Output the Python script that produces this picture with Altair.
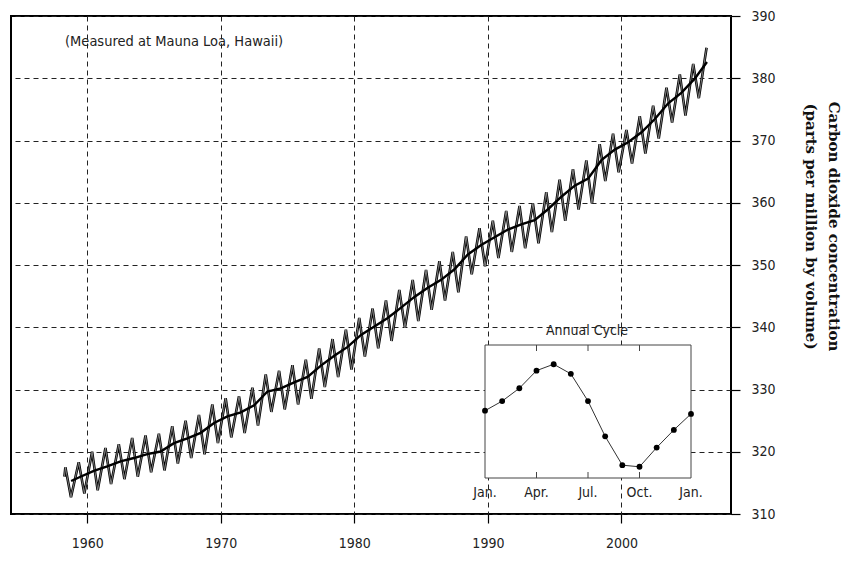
import altair as alt
import pandas as pd

# ---------------- data ----------------
years = list(range(1958, 2007))
# seasonal maxima (around May) 1958..2006
peak_may = [317.5, 318.3, 320.0, 320.6, 321.2, 322.2, 322.6, 322.9, 324.1, 325.0,
            325.9, 327.6, 328.6, 328.9, 330.3, 332.4, 333.0, 333.9, 334.8, 336.6,
            338.1, 339.6, 341.5, 343.0, 344.3, 346.0, 347.6, 349.2, 350.6, 352.1,
            354.6, 355.9, 357.1, 358.7, 359.5, 359.9, 361.7, 363.7, 365.4, 366.8,
            369.4, 371.1, 371.7, 373.9, 375.6, 378.5, 380.6, 382.3, 384.9]
# seasonal minima (around October) 1958..2005
trough_oct = [312.7, 313.3, 313.8, 314.8, 315.6, 316.0, 316.7, 317.0, 318.1, 319.0,
              319.6, 321.4, 322.3, 323.0, 324.2, 326.4, 326.8, 327.6, 328.5, 330.4,
              332.0, 333.2, 335.3, 336.6, 337.8, 339.9, 341.0, 342.8, 344.3, 345.6,
              348.5, 349.8, 351.1, 352.1, 352.7, 353.5, 355.3, 357.1, 358.9, 359.9,
              363.5, 364.9, 366.3, 367.9, 370.3, 372.9, 374.0, 376.8]
start_time, start_value = 1958.3, 316.0

# smooth trend (annual means)
trend_time = [1958.8] + [y + 0.5 for y in range(1959, 2006)] + [2006.4]
trend_value = [315.3,
               315.98, 316.91, 317.64, 318.45, 318.99, 319.62, 320.04, 321.38, 322.16, 323.04,
               324.62, 325.68, 326.32, 327.46, 329.68, 330.19, 331.13, 332.03, 333.84, 335.41,
               336.84, 338.76, 340.12, 341.48, 343.15, 344.87, 346.35, 347.61, 349.31, 351.69,
               353.20, 354.45, 355.70, 356.54, 357.21, 358.96, 360.97, 362.74, 363.88, 366.84,
               368.54, 369.71, 371.32, 373.45, 375.98, 377.70, 379.98,
               382.6]

# inset: annual cycle (deviation, ppm), Jan..Jan
cycle_month = list(range(13))
cycle_value = [0.3, 0.9, 1.7, 2.8, 3.2, 2.6, 0.9, -1.3, -3.1, -3.2, -2.0, -0.9, 0.1]
cycle_tick_month = [0, 3, 6, 9, 12]
cycle_tick_label = ["Jan.", "Apr.", "Jul.", "Oct.", "Jan."]

x_ticks = [1960, 1970, 1980, 1990, 2000]
y_ticks = [310, 320, 330, 340, 350, 360, 370, 380, 390]

# ---------------- tables ----------------
zt, zv = [start_time], [start_value]
for i, y in enumerate(years):
    zt.append(y + 0.37)
    zv.append(peak_may[i])
    if i < len(trough_oct):
        zt.append(y + 0.79)
        zv.append(trough_oct[i])
zig = pd.DataFrame({"t": zt, "v": zv})
trend = pd.DataFrame({"t": trend_time, "v": trend_value})
cycle = pd.DataFrame({"m": cycle_month, "d": cycle_value})
cyc_ticks = pd.DataFrame({"m": cycle_tick_month, "lab": cycle_tick_label})
inner_ticks = cyc_ticks[cyc_ticks["m"].isin([3, 6, 9])]

NARROW = "Liberation Sans Narrow, Arial Narrow, DejaVu Sans Condensed, sans-serif"

xs = alt.X("t:Q",
           scale=alt.Scale(domain=[1954.3, 2008.2], nice=False, zero=False),
           axis=alt.Axis(values=x_ticks, format="d", grid=True, gridDash=[5, 4],
                         gridColor="#222", gridWidth=1, tickSize=9, tickColor="black",
                         tickWidth=1.2, labelPadding=13, labelFont=NARROW,
                         labelFontSize=14, labelColor="#222", domain=False, title=None))
ys = alt.Y("v:Q",
           scale=alt.Scale(domain=[310, 390], nice=False, zero=False),
           axis=alt.Axis(orient="right", values=y_ticks, grid=True, gridDash=[5, 4],
                         gridColor="#222", gridWidth=1, tickSize=9, tickColor="black",
                         tickWidth=1.2, labelPadding=11, labelFont=NARROW,
                         labelFontSize=14, labelColor="#222", domain=False,
                         title=["Carbon dioxide concentration", "(parts per million by volume)"],
                         titleFont="DejaVu Serif", titleFontSize=15,
                         titleFontWeight="bold", titleColor="#111", titleAngle=90,
                         titlePadding=27, titleLineHeight=23, titleY=210))

zig_outer = alt.Chart(zig).mark_line(color="black", strokeWidth=2.6).encode(x=xs, y=ys)
zig_inner = alt.Chart(zig).mark_line(color="#9c9c9c", strokeWidth=0.8).encode(x=xs, y=ys)
trend_line = alt.Chart(trend).mark_line(color="black", strokeWidth=2.4).encode(x=xs, y=ys)
note = alt.Chart(pd.DataFrame({"txt": ["(Measured at Mauna Loa, Hawaii)"]})).mark_text(
    align="left", baseline="middle", font=NARROW, fontSize=14.5, color="#222"
).encode(x=alt.value(54), y=alt.value(26), text="txt:N")

main = alt.layer(zig_outer, zig_inner, trend_line, note)

# ---------------- inset ----------------
ix_scale = alt.Scale(domain=[0, 12], range=[474, 680], nice=False, zero=False)
iy_scale = alt.Scale(domain=[-3.9, 4.4], range=[462, 329], nice=False, zero=False)

box = alt.Chart(pd.DataFrame({"m0": [0], "m1": [12], "d0": [-3.9], "d1": [4.4]})).mark_rect(
    fill="white", stroke="#444", strokeWidth=1
).encode(x=alt.X("m0:Q", scale=ix_scale, axis=None), x2="m1:Q",
         y=alt.Y("d0:Q", scale=iy_scale, axis=None), y2="d1:Q")
tick_b = alt.Chart(inner_ticks).mark_rule(color="#444", strokeWidth=1).encode(
    x=alt.X("m:Q", scale=ix_scale, axis=None), y=alt.value(462), y2=alt.value(456))
tick_t = alt.Chart(inner_ticks).mark_rule(color="#444", strokeWidth=1).encode(
    x=alt.X("m:Q", scale=ix_scale, axis=None), y=alt.value(329), y2=alt.value(335))
tick_lab = alt.Chart(cyc_ticks).mark_text(
    baseline="middle", align="center", font=NARROW, fontSize=14, color="#222"
).encode(x=alt.X("m:Q", scale=ix_scale, axis=None), y=alt.value(477), text="lab:N")
ititle = alt.Chart(pd.DataFrame({"txt": ["Annual Cycle"]})).mark_text(
    baseline="middle", align="center", font=NARROW, fontSize=14, color="#222"
).encode(x=alt.value(576), y=alt.value(315), text="txt:N")
cyc_line = alt.Chart(cycle).mark_line(color="#333", strokeWidth=1).encode(
    x=alt.X("m:Q", scale=ix_scale, axis=None), y=alt.Y("d:Q", scale=iy_scale, axis=None))
cyc_pts = alt.Chart(cycle).mark_circle(color="black", size=34, opacity=1).encode(
    x=alt.X("m:Q", scale=ix_scale, axis=None), y=alt.Y("d:Q", scale=iy_scale, axis=None))

inset = alt.layer(box, tick_b, tick_t, tick_lab, ititle, cyc_line, cyc_pts)

chart = alt.layer(main, inset).resolve_scale(x="independent", y="independent").properties(
    width=720, height=498, autosize="none",
    padding={"left": 3, "top": 8, "right": 116, "bottom": 40},
    background="white"
).configure_view(stroke="black", strokeWidth=2)

chart.save("out.html", embed_options={"renderer": "svg", "actions": False})
